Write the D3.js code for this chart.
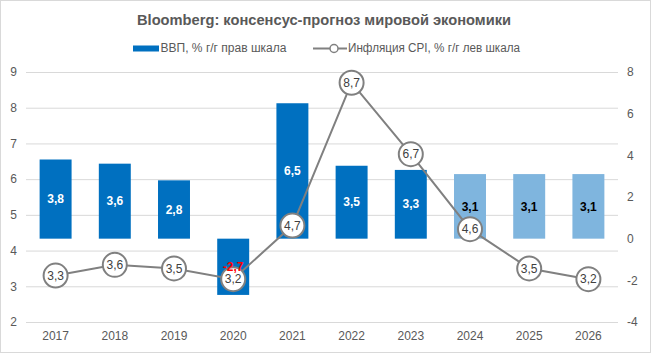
<!DOCTYPE html>
<html>
<head>
<meta charset="utf-8">
<script src="https://cdn.jsdelivr.net/npm/d3@7"></script>
<style>
  body { margin: 0; background: #fff; }
  svg { font-family: "Liberation Sans", Arial, sans-serif; }
</style>
</head>
<body>
<svg id="drawing_region"></svg>
<script>
const years = ['2017','2018','2019','2020','2021','2022','2023','2024','2025','2026'];
const gdp = [3.8, 3.6, 2.8, -2.7, 6.5, 3.5, 3.3, 3.1, 3.1, 3.1];
const cpi = [3.3, 3.6, 3.5, 3.2, 4.7, 8.7, 6.7, 4.6, 3.5, 3.2];
const forecastYears = ['2024','2025','2026'];
const leftTicks = [2, 3, 4, 5, 6, 7, 8, 9];
const rightTicks = [-4, -2, 0, 2, 4, 6, 8];

const width = 652, height = 354;
const margin = {top: 72, right: 34, bottom: 32, left: 26};
const inner_width = width - margin.left - margin.right;
const inner_height = height - margin.top - margin.bottom;
const fmt = v => String(v).replace('.', ',');
const FONT = '"Liberation Sans", Arial, sans-serif';

const svg = d3.select('#drawing_region')
    .attr('width', width)
    .attr('height', height);

svg.append('rect')
    .attr('x', 0.5).attr('y', 0.5)
    .attr('width', width - 2).attr('height', height - 2)
    .attr('fill', '#fff')
    .attr('stroke', '#d9d9d9');

const chart = svg.append('g')
    .attr('transform', `translate(${margin.left}, ${margin.top})`);

const xscale = d3.scaleBand()
    .domain(years)
    .range([0, inner_width])
    .paddingInner(0.46)
    .paddingOuter(0.23);

const yleft = d3.scaleLinear().domain([2, 9]).range([inner_height, 0]);
const yright = d3.scaleLinear().domain([-4, 8]).range([inner_height, 0]);

const styleLabels = g => g.selectAll('text')
    .attr('fill', '#595959')
    .attr('font-size', 12)
    .attr('font-family', FONT);

// gridlines
chart.append('g')
    .call(d3.axisLeft(yleft).tickValues(leftTicks).tickSize(-inner_width).tickFormat(''))
    .call(g => g.select('.domain').remove())
    .call(g => g.selectAll('line').attr('stroke', '#d9d9d9'));

// left axis labels
chart.append('g')
    .call(d3.axisLeft(yleft).tickValues(leftTicks).tickSize(0).tickPadding(9).tickFormat(d3.format('d')))
    .call(g => g.select('.domain').remove())
    .call(styleLabels);

// right axis labels
chart.append('g')
    .attr('transform', `translate(${inner_width}, 0)`)
    .call(d3.axisRight(yright).tickValues(rightTicks).tickSize(0).tickPadding(9).tickFormat(d => String(d)))
    .call(g => g.select('.domain').remove())
    .call(styleLabels);

// x axis labels
chart.append('g')
    .attr('transform', `translate(0, ${inner_height})`)
    .call(d3.axisBottom(xscale).tickSize(0).tickPadding(9))
    .call(g => g.select('.domain').remove())
    .call(styleLabels);

const isForecast = y => forecastYears.includes(y);

// bars (right scale)
chart.selectAll('rect.bar')
    .data(years)
    .enter()
    .append('rect')
    .attr('class', 'bar')
    .attr('x', d => xscale(d))
    .attr('width', xscale.bandwidth())
    .attr('y', (d, i) => yright(Math.max(0, gdp[i])))
    .attr('height', (d, i) => Math.abs(yright(gdp[i]) - yright(0)))
    .attr('fill', d => isForecast(d) ? '#7fb5de' : '#0070c0');

// inflation line (left scale)
const line = d3.line()
    .x((d, i) => xscale(years[i]) + xscale.bandwidth() / 2)
    .y(d => yleft(d));

chart.append('path')
    .attr('d', line(cpi))
    .attr('fill', 'none')
    .attr('stroke', '#808080')
    .attr('stroke-width', 2);

chart.selectAll('circle.pt')
    .data(cpi)
    .enter()
    .append('circle')
    .attr('class', 'pt')
    .attr('cx', (d, i) => xscale(years[i]) + xscale.bandwidth() / 2)
    .attr('cy', d => yleft(d))
    .attr('r', 12)
    .attr('fill', '#fff')
    .attr('stroke', '#808080')
    .attr('stroke-width', 2);

chart.selectAll('text.ptlabel')
    .data(cpi)
    .enter()
    .append('text')
    .attr('class', 'ptlabel')
    .attr('x', (d, i) => xscale(years[i]) + xscale.bandwidth() / 2)
    .attr('y', d => yleft(d))
    .attr('dy', '0.35em')
    .attr('text-anchor', 'middle')
    .attr('font-size', 12)
    .attr('fill', '#404040')
    .text(d => fmt(d));

// bar labels on top of everything
chart.selectAll('text.barlabel')
    .data(years)
    .enter()
    .append('text')
    .attr('class', 'barlabel')
    .attr('x', d => xscale(d) + xscale.bandwidth() / 2)
    .attr('y', (d, i) => (yright(gdp[i]) + yright(0)) / 2)
    .attr('dy', '0.35em')
    .attr('text-anchor', 'middle')
    .attr('font-size', 12)
    .attr('font-weight', 700)
    .attr('fill', (d, i) => gdp[i] < 0 ? '#ff0000' : (isForecast(d) ? '#000' : '#fff'))
    .text((d, i) => fmt(gdp[i]));

// title
svg.append('text')
    .attr('x', 137)
    .attr('y', 24.5)
    .attr('font-size', 14.5)
    .attr('font-weight', 700)
    .attr('fill', '#595959')
    .attr('textLength', 374)
    .attr('lengthAdjust', 'spacingAndGlyphs')
    .text('Bloomberg: консенсус-прогноз мировой экономики');

// legend
const legend = svg.append('g');
legend.append('rect')
    .attr('x', 133).attr('y', 45.5)
    .attr('width', 26).attr('height', 6)
    .attr('fill', '#0070c0');
legend.append('text')
    .attr('x', 160.5).attr('y', 52)
    .attr('font-size', 12.5)
    .attr('fill', '#595959')
    .attr('textLength', 126)
    .attr('lengthAdjust', 'spacingAndGlyphs')
    .text('ВВП, % г/г прав шкала');
legend.append('line')
    .attr('x1', 313).attr('x2', 347)
    .attr('y1', 48.5).attr('y2', 48.5)
    .attr('stroke', '#808080').attr('stroke-width', 2);
legend.append('circle')
    .attr('cx', 334).attr('cy', 48.5).attr('r', 4)
    .attr('fill', '#fff')
    .attr('stroke', '#808080').attr('stroke-width', 1.5);
legend.append('text')
    .attr('x', 348).attr('y', 52)
    .attr('font-size', 12.5)
    .attr('fill', '#595959')
    .attr('textLength', 172)
    .attr('lengthAdjust', 'spacingAndGlyphs')
    .text('Инфляция CPI, % г/г лев шкала');
</script>
</body>
</html>
